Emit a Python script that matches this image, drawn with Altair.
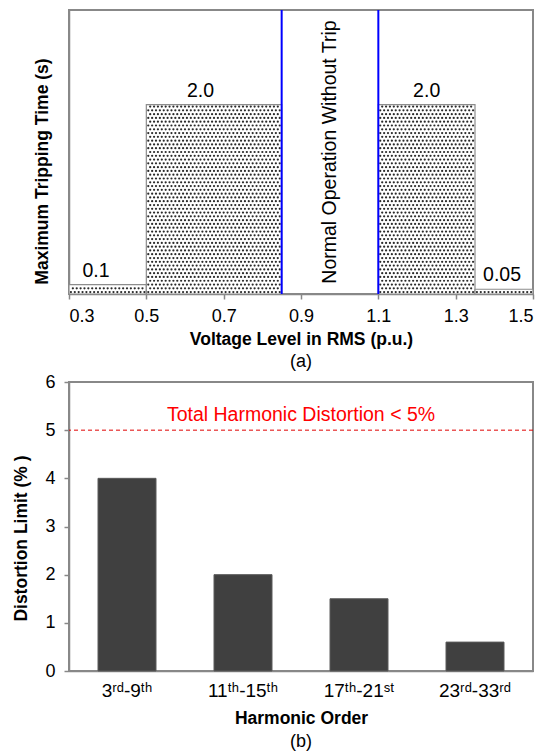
import altair as alt
import pandas as pd
import numpy as np

# ---------------- Panel (a): voltage ride-through tripping times ----------------
seg_start = [0.3, 0.5, 1.1, 1.35]
seg_end = [0.5, 0.85, 1.35, 1.5]
trip_time = [0.1, 2.0, 2.0, 0.05]
trip_label = ["0.1", "2.0", "2.0", "0.05"]
label_x = [0.37, 0.64, 1.225, 1.42]
normal_band = [0.85, 1.1]
normal_text = ["Normal Operation Without Trip"]
x_ticks = [0.3, 0.5, 0.7, 0.9, 1.1, 1.3, 1.5]

# ---------------- Panel (b): harmonic distortion limits ----------------
harmonic_order = ["3ʳᵈ-9ᵗʰ", "11ᵗʰ-15ᵗʰ", "17ᵗʰ-21ˢᵗ", "23ʳᵈ-33ʳᵈ"]
distortion_limit = [4.0, 2.0, 1.5, 0.6]
thd_limit = [5]
thd_text = ["Total Harmonic Distortion < 5%"]
y_ticks_b = [0, 1, 2, 3, 4, 5, 6]

FONT = "Liberation Sans"
W = 464
H1 = 284
H2 = 289
XT_A = "Voltage Level in RMS (p.u.)"
YT_A = "Maximum Tripping Time (s)"
XT_B = "Harmonic Order"
YT_B = "Distortion Limit (% )"

seg_df = pd.DataFrame({"start": seg_start, "end": seg_end, "time": trip_time,
                       "base": [0.0] * 4, "label": trip_label, "lx": label_x})

# dotted texture inside each bar (pattern fill), derived from the bar extents
dx, dy = 0.01, 0.04
dot_x, dot_y = [], []
for s, e, h in zip(seg_start, seg_end, trip_time):
    k = 0
    while (k + 0.5) * dy <= h - dy * 0.25:
        yy = (k + 0.5) * dy
        xx = s + dx * (0.5 + 0.5 * (k % 2))
        while xx < e - dx * 0.25:
            dot_x.append(xx)
            dot_y.append(yy)
            xx += dx
        k += 1
dots_df = pd.DataFrame({"start": dot_x, "time": dot_y})

xs = alt.Scale(domain=[0.3, 1.5], nice=False, zero=False)
ys = alt.Scale(domain=[0, 3], nice=False)

bars_a = alt.Chart(seg_df).mark_rect(fill="white", stroke="#8c8c8c", strokeWidth=1.2).encode(
    x=alt.X("start:Q", scale=xs, title=XT_A,
            axis=alt.Axis(values=x_ticks, format=".1f",
                          tickSize=5, labelPadding=8, titlePadding=5)),
    x2="end:Q",
    y=alt.Y("time:Q", scale=ys, title=YT_A,
            axis=alt.Axis(labels=False, ticks=False, titlePadding=18, titleY=161)),
    y2="base:Q",
)

dots_a = alt.Chart(dots_df).mark_circle(size=5, color="#2a2a2a", opacity=1).encode(
    x=alt.X("start:Q", scale=xs, title=XT_A),
    y=alt.Y("time:Q", scale=ys, title=YT_A),
)

blue = alt.Chart(pd.DataFrame({"start": normal_band})).mark_rule(color="#0000ff", strokeWidth=2).encode(
    x=alt.X("start:Q", scale=xs, title=XT_A)
)

normal_lbl = alt.Chart(pd.DataFrame({"t": normal_text, "start": [sum(normal_band) / 2], "time": [1.5]})).mark_text(
    angle=270, fontSize=19.5, align="center", baseline="middle", color="black", font=FONT
).encode(
    x=alt.X("start:Q", scale=xs, title=XT_A),
    y=alt.Y("time:Q", scale=ys, title=YT_A),
    text="t:N",
)

value_lbl = alt.Chart(seg_df).mark_text(fontSize=19.5, baseline="alphabetic", dy=-8, color="black", font=FONT).encode(
    x=alt.X("lx:Q", scale=xs, title=XT_A),
    y=alt.Y("time:Q", scale=ys, title=YT_A),
    text="label:N",
)

top = alt.layer(bars_a, dots_a, blue, normal_lbl, value_lbl).properties(
    width=W, height=H1,
    title=alt.TitleParams("(a)", orient="bottom", fontSize=18, fontWeight="normal",
                          font=FONT, offset=5, anchor="middle", frame="group", color="black"),
)

# ---------------- bottom chart ----------------
b_df = pd.DataFrame({"order": harmonic_order, "limit": distortion_limit})
ysb = alt.Scale(domain=[0, 6], nice=False)

bars_b = alt.Chart(b_df).mark_bar(color="#404040", stroke="#5a5a5a", strokeWidth=1).encode(
    x=alt.X("order:N", sort=harmonic_order, title=XT_B,
            scale=alt.Scale(paddingInner=0.5, paddingOuter=0.25),
            axis=alt.Axis(labelAngle=0, ticks=False, labelPadding=10,
                          labelFontSize=19, titlePadding=9)),
    y=alt.Y("limit:Q", scale=ysb, title=YT_B,
            axis=alt.Axis(values=y_ticks_b, tickSize=5,
                          labelPadding=9, titlePadding=14, titleY=156)),
)

thd_df = pd.DataFrame({"limit": thd_limit, "t": thd_text})
rule_b = alt.Chart(thd_df).mark_rule(color="#e00000", strokeDash=[4, 3], strokeWidth=1).encode(
    y=alt.Y("limit:Q", scale=ysb, title=YT_B)
)
text_b = alt.Chart(thd_df).mark_text(color="#ff0000", fontSize=19.5, baseline="alphabetic", dy=-9,
                                     align="center", font=FONT).encode(
    x=alt.value(W / 2),
    y=alt.Y("limit:Q", scale=ysb, title=YT_B),
    text="t:N",
)

bottom = alt.layer(bars_b, rule_b, text_b).properties(
    width=W, height=H2,
    title=alt.TitleParams("(b)", orient="bottom", fontSize=18, fontWeight="normal",
                          font=FONT, offset=6, anchor="middle", frame="group", color="black"),
)

chart = alt.vconcat(top, bottom, spacing=0).properties(
    padding={"left": 3, "top": 0, "right": 0, "bottom": 0}
).configure(font=FONT).configure_view(
    stroke="#888888", strokeWidth=2
).configure_axis(
    domainColor="#888888", tickColor="#888888", labelColor="black", titleColor="black",
    labelFont=FONT, titleFont=FONT, labelFontSize=18, titleFontSize=17.5,
    titleFontWeight="bold", grid=False, domainWidth=1.5, tickWidth=1.5,
)

chart.save("out.html", embed_options={"renderer": "svg", "actions": False})
